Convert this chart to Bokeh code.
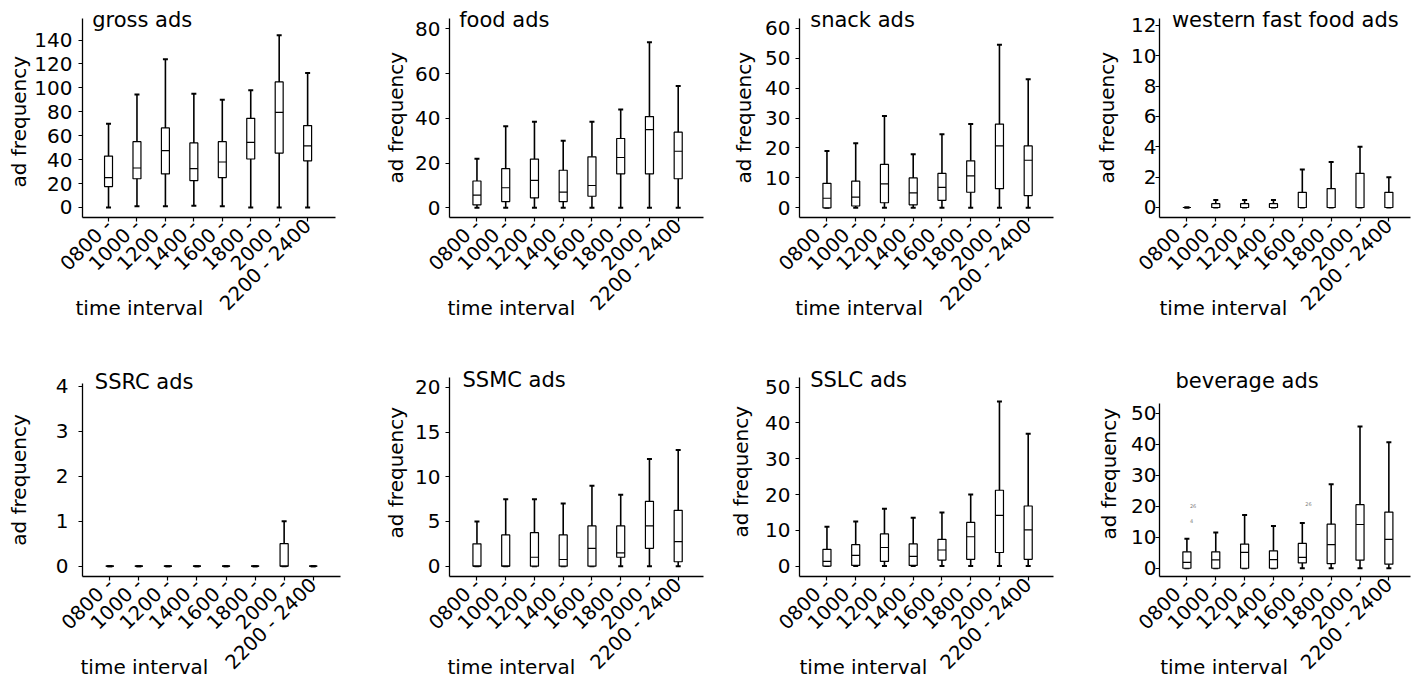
import math
from bokeh.plotting import figure
from bokeh.layouts import column, row
from bokeh.models import FixedTicker, Range1d, Title
from bokeh.embed import file_html
from bokeh.resources import INLINE
from bokeh.core.properties import value

FONT = "DejaVu Sans"

# ---------------- data ----------------
categories = ["0800 -", "1000 -", "1200 -", "1400 -", "1600 -", "1800 -", "2000 -", "2200 - 2400"]

gross_hi = [70, 94.5, 124, 95, 90, 98, 144, 112.5]
gross_q3 = [43, 55, 66.5, 54, 55, 74.5, 105, 68.5]
gross_med = [25, 33, 47.5, 32.5, 38, 54.5, 79.5, 51.5]
gross_q1 = [17.5, 24, 28, 22.5, 25, 40.5, 45.5, 39]
gross_lo = [0, 1, 1, 1.5, 1, 0, 0, 0]

food_hi = [22, 36.5, 38.5, 30, 38.5, 44, 74, 54.5]
food_q3 = [12, 17.5, 21.8, 16.8, 22.8, 31, 40.8, 33.8]
food_med = [5.7, 9, 12.3, 7, 10, 22.5, 35, 25.3]
food_q1 = [1.3, 2.8, 4.5, 2.8, 5.2, 15.2, 15.2, 13]
food_lo = [0, 0, 0, 0, 0, 0, 0, 0]

snack_hi = [19, 21.6, 30.7, 17.9, 24.6, 28, 54.5, 43]
snack_q3 = [8.2, 8.9, 14.5, 10, 11.5, 15.7, 28, 20.7]
snack_med = [3.2, 3.6, 8, 5, 6.8, 10.7, 20.7, 15.9]
snack_q1 = [0, 0.6, 1.7, 1, 2.5, 5.2, 6.4, 4.1]
snack_lo = [0, 0, 0, 0, 0, 0, 0, 0]

wff_hi = [0, 0.5, 0.5, 0.5, 2.5, 3, 4, 2]
wff_q3 = [0, 0.25, 0.25, 0.25, 1, 1.25, 2.25, 1]
wff_med = [0, 0, 0, 0, 0, 0, 0, 0]
wff_q1 = [0, 0, 0, 0, 0, 0, 0, 0]
wff_lo = [0, 0, 0, 0, 0, 0, 0, 0]

ssrc_hi = [0, 0, 0, 0, 0, 0, 1, 0]
ssrc_q3 = [0, 0, 0, 0, 0, 0, 0.5, 0]
ssrc_med = [0, 0, 0, 0, 0, 0, 0, 0]
ssrc_q1 = [0, 0, 0, 0, 0, 0, 0, 0]
ssrc_lo = [0, 0, 0, 0, 0, 0, 0, 0]

ssmc_hi = [5, 7.5, 7.5, 7, 9, 8, 12, 13]
ssmc_q3 = [2.5, 3.5, 3.75, 3.5, 4.5, 4.5, 7.25, 6.25]
ssmc_med = [0, 0, 1, 0.75, 2, 1.5, 4.5, 2.75]
ssmc_q1 = [0, 0, 0, 0, 0, 1, 2, 0.5]
ssmc_lo = [0, 0, 0, 0, 0, 0, 0, 0]

sslc_hi = [11, 12.5, 16, 13.5, 15, 20, 46, 37]
sslc_q3 = [4.7, 6, 9, 6.2, 7.5, 12.2, 21.2, 16.8]
sslc_med = [1.3, 3, 5.2, 2.7, 4.5, 8.2, 14.2, 10.1]
sslc_q1 = [0, 0.2, 1.3, 0.2, 1.7, 1.9, 3.8, 1.9]
sslc_lo = [0, 0, 0, 0, 0, 0, 0, 0]

bev_hi = [9.5, 11.5, 17.2, 13.6, 14.6, 27.1, 45.7, 40.6]
bev_q3 = [5.3, 5.3, 7.8, 5.6, 8, 14.2, 20.5, 18.1]
bev_med = [1.9, 2.7, 5.1, 2.8, 3.5, 7.6, 14.1, 9.3]
bev_q1 = [0, 0, 0, 0, 1.7, 1.5, 2.6, 1.3]
bev_lo = [0, 0, 0, 0, 0, 0, 0, 0]

bev_out_cat = ["0800 -", "0800 -", "1600 -"]
bev_out_val = [20.2, 15.1, 20.6]
bev_out_lab = ["26", "4", "26"]

titles = ["gross ads", "food ads", "snack ads", "western fast food ads",
          "SSRC ads", "SSMC ads", "SSLC ads", "beverage ads"]
y_label = "ad frequency"
x_label = "time interval"
y_tick_steps = [(140, 20), (80, 20), (60, 10), (12, 2), (4, 1), (20, 5), (50, 10), (50, 10)]

series = [
    (gross_lo, gross_q1, gross_med, gross_q3, gross_hi),
    (food_lo, food_q1, food_med, food_q3, food_hi),
    (snack_lo, snack_q1, snack_med, snack_q3, snack_hi),
    (wff_lo, wff_q1, wff_med, wff_q3, wff_hi),
    (ssrc_lo, ssrc_q1, ssrc_med, ssrc_q3, ssrc_hi),
    (ssmc_lo, ssmc_q1, ssmc_med, ssmc_q3, ssmc_hi),
    (sslc_lo, sslc_q1, sslc_med, sslc_q3, sslc_hi),
    (bev_lo, bev_q1, bev_med, bev_q3, bev_hi),
]

# ---------------- layout specs ----------------
# tt = (title offset, title standoff)
# yl = (offset along axis from frame bottom, standoff) or None -> axis label with standoff ys
# yls = y tick label standoff, xo = x-label offset from frame left
geo = [
    dict(w=360, h=340, l=82, r=25, t=18, b=123, xr=(0.085, 8.98), yr=(-8.4, 158.0),
         tt=(9.7, -26), yl=(30, 2), ys=2, yls=6, xo=-7),
    dict(w=350, h=340, l=89, r=7, t=18, b=123, xr=(0.045, 8.88), yr=(-4.3, 84.6),
         tt=(9.7, -27), yl=(34, 10), ys=5, yls=5, xo=-2),
    dict(w=350, h=340, l=89, r=7, t=18, b=123, xr=(0.045, 8.88), yr=(-3.24, 63.3),
         tt=(10.7, -27), yl=(34, 14), ys=7, yls=5, xo=-4.3),
    dict(w=361, h=340, l=99, r=11, t=18, b=123, xr=(0.05, 8.75), yr=(-0.66, 12.46),
         tt=(12.4, -27), yl=(34, 20), ys=4, yls=-1, xo=0),
    dict(w=360, h=346, l=82, r=20, t=43, b=110, xr=(0.06, 8.94), yr=(-0.23, 4.06),
         tt=(12.3, -20), yl=None, ys=22, yls=10, xo=-2),
    dict(w=350, h=346, l=89, r=7, t=37, b=110, xr=(0.045, 8.88), yr=(-1.15, 21.1),
         tt=(13, -29), yl=(38, 10), ys=5, yls=5, xo=-2),
    dict(w=350, h=346, l=89, r=7, t=37, b=110, xr=(0.045, 8.88), yr=(-2.9, 52.7),
         tt=(10.7, -29), yl=(39, 20), ys=10, yls=5, xo=0),
    dict(w=361, h=346, l=99, r=11, t=63, b=110, xr=(0.05, 8.75), yr=(-2.66, 53.1),
         tt=(16, 22), yl=(37, 16), ys=2, yls=-1, xo=0.7),
]

positions = {c: i + 1 for i, c in enumerate(categories)}
xs = [positions[c] for c in categories]


def style_text(t, size):
    t.text_font = FONT
    t.text_font_size = size
    t.text_font_style = "normal"
    t.text_color = "black"


def make_panel(i):
    g = geo[i]
    lo, q1, med, q3, hi = series[i]
    p = figure(width=g["w"], height=g["h"], x_range=Range1d(*g["xr"]), y_range=Range1d(*g["yr"]),
               output_backend="svg", toolbar_location=None, tools="")
    try:
        p.frame_align = False
    except Exception:
        pass
    p.min_border_left = g["l"]
    p.min_border_right = g["r"]
    p.min_border_top = g["t"]
    p.min_border_bottom = g["b"]
    p.outline_line_color = None
    p.xgrid.visible = False
    p.ygrid.visible = False
    p.background_fill_color = "white"
    p.border_fill_color = "white"

    # panel title
    off, standoff = g["tt"]
    p.title.text = titles[i]
    p.title.align = "left"
    p.title.offset = off
    p.title.standoff = standoff
    style_text(p.title, "21px")

    # x axis
    xa = p.xaxis[0]
    xa.ticker = FixedTicker(ticks=xs, minor_ticks=[])
    xa.major_label_overrides = {positions[c]: c for c in categories}
    xa.major_label_orientation = math.pi / 4
    xa.major_label_text_font = FONT
    xa.major_label_text_font_size = "19.6px"
    xa.major_label_text_color = "black"
    xa.major_label_standoff = 1
    xa.major_tick_out = 4
    xa.major_tick_in = 0
    xa.minor_tick_line_color = None
    xa.axis_line_color = "black"
    xa.axis_line_width = 1.3
    xa.major_tick_line_color = "black"
    xa.major_tick_line_width = 1.2
    xa.axis_label = None

    xt = Title(text=x_label, align="left", offset=g["xo"], standoff=-62, vertical_align="top")
    style_text(xt, "20px")
    p.add_layout(xt, "below")

    # y axis
    top, step = y_tick_steps[i]
    ya = p.yaxis[0]
    ya.ticker = FixedTicker(ticks=list(range(0, top + 1, step)), minor_ticks=[])
    ya.major_label_text_font = FONT
    ya.major_label_text_font_size = "20px"
    ya.major_label_text_color = "black"
    ya.major_label_standoff = g["yls"]
    ya.major_tick_out = 4
    ya.major_tick_in = 0
    ya.minor_tick_line_color = None
    ya.axis_line_color = "black"
    ya.axis_line_width = 1.3
    ya.major_tick_line_color = "black"
    ya.major_tick_line_width = 1.2
    if g["yl"] is None:
        ya.axis_label = y_label
        ya.axis_label_text_font = FONT
        ya.axis_label_text_font_size = "20px"
        ya.axis_label_text_font_style = "normal"
        ya.axis_label_text_color = "black"
        ya.axis_label_standoff = g["ys"]
    else:
        ya.axis_label = None
        yoff, ystand = g["yl"]
        yt = Title(text=y_label, align="left", offset=yoff, standoff=ystand, vertical_align="bottom")
        style_text(yt, "20px")
        p.add_layout(yt, "left")

    # boxplot
    p.segment(x0=xs, y0=lo, x1=xs, y1=hi, line_color="black", line_width=1.6)
    p.scatter(x=xs, y=hi, marker="dash", size=5, line_color="black", line_width=2)
    p.scatter(x=xs, y=lo, marker="dash", size=5, line_color="black", line_width=2)
    p.vbar(x=xs, width=0.28, bottom=q1, top=q3, fill_color="white",
           line_color="black", line_width=1.2)
    p.scatter(x=xs, y=med, marker="dash", size=8, line_color="black", line_width=1.2)

    if i == 7:
        p.text(x=[positions[c] for c in bev_out_cat], y=bev_out_val, text=bev_out_lab,
               text_font=value(FONT), text_font_size="5px", text_color="#808080",
               x_offset=3, text_baseline="middle", text_align="left")
    return p


panels = [make_panel(i) for i in range(8)]
layout = column(row(*panels[:4], spacing=0), row(*panels[4:], spacing=0), spacing=0)

open("out.html", "w").write(file_html(layout, INLINE))
